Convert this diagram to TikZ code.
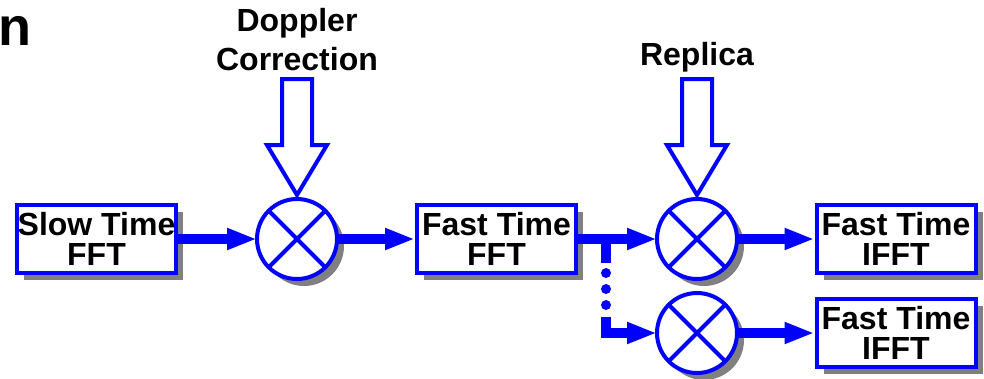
\documentclass[tikz,border=0pt]{standalone}
\usepackage{fontspec}
\setmainfont{Liberation Sans}
\usetikzlibrary{arrows.meta,shadows,calc}
\definecolor{sigblue}{RGB}{0,0,255}
\definecolor{shade}{RGB}{128,128,128}
\tikzset{
  shadowed/.style={drop shadow={shadow xshift=7pt,shadow yshift=-7pt,fill=shade,opacity=1}},
  block/.style={draw=sigblue,fill=white,line width=4pt,minimum width=159pt,minimum height=68pt,
    inner sep=0pt,align=center,font=\fontsize{32}{30}\selectfont\bfseries,shadowed},
  mixer/.style={circle,draw=sigblue,fill=white,line width=4pt,minimum size=80pt,inner sep=0pt,
    outer sep=0pt,shadowed},
  cross/.style={draw=sigblue,line width=4pt},
  flow/.style={draw=sigblue,line width=10pt,-{Triangle[length=30pt,width=20pt]}},
  flowline/.style={draw=sigblue,line width=10pt},
  hollow/.style={draw=sigblue,fill=white,line width=4pt,line join=miter},
  label/.style={font=\fontsize{32}{30}\selectfont\bfseries,inner sep=0pt,anchor=base},
}
\begin{document}
\begin{tikzpicture}[x=1pt,y=-1pt]
\useasboundingbox (0,0) rectangle (984,378);

% partial heading letter
\node[font=\fontsize{54}{54}\selectfont\bfseries,inner sep=0pt,anchor=base east] (head) at (32,45) {n};

% processing blocks
\node[block] (slow) at (96.5,239) {Slow Time\\FFT};
\node[block] (fast) at (496.5,239) {Fast Time\\FFT};
\node[block] (ifftA) at (896,239) {Fast Time\\IFFT};
\node[block] (ifftB) at (896,333) {Fast Time\\IFFT};

% mixers
\node[mixer] (m1) at (297,239) {};
\node[mixer] (m2) at (697,239) {};
\node[mixer] (m3) at (697,333) {};
\foreach \m in {m1,m2,m3}{
  \draw[cross] ($(\m)+(45:40)$) -- ($(\m)+(225:40)$);
  \draw[cross] ($(\m)+(135:40)$) -- ($(\m)+(315:40)$);
}

% reference inputs
\node[label] (dop1) at (297,31) {Doppler};
\node[label] (dop2) at (297,70) {Correction};
\node[label] (rep) at (697,65) {Replica};

\foreach \m in {m1,m2}{
  \draw[hollow] ($(\m.north)+(0,-4)$) -- ++(-30,-50) -- ++(15,0) -- ++(0,-66)
    -- ++(30,0) -- ++(0,66) -- ++(15,0) -- cycle;
}

% signal flow
\draw[flow] (slow.east) -- (m1.west);
\draw[flow] (m1.east) -- (fast.west);
\draw[flow] (fast.east) -- (m2.west);
\draw[flow] (m2.east) -- (ifftA.west);
\draw[flow] (m3.east) -- (ifftB.west);

% branch to further channels
\coordinate (split) at (606,239);
\coordinate (splitEnd) at (606,263);
\coordinate (rejoin) at (606,317);
\draw[flowline,line cap=butt] (split) -- (splitEnd);
\foreach \yy in {273,289,305}
  \fill[sigblue] (606,\yy) circle (5pt);
\draw[flow] (rejoin) |- (m3.west);
\end{tikzpicture}
\end{document}
